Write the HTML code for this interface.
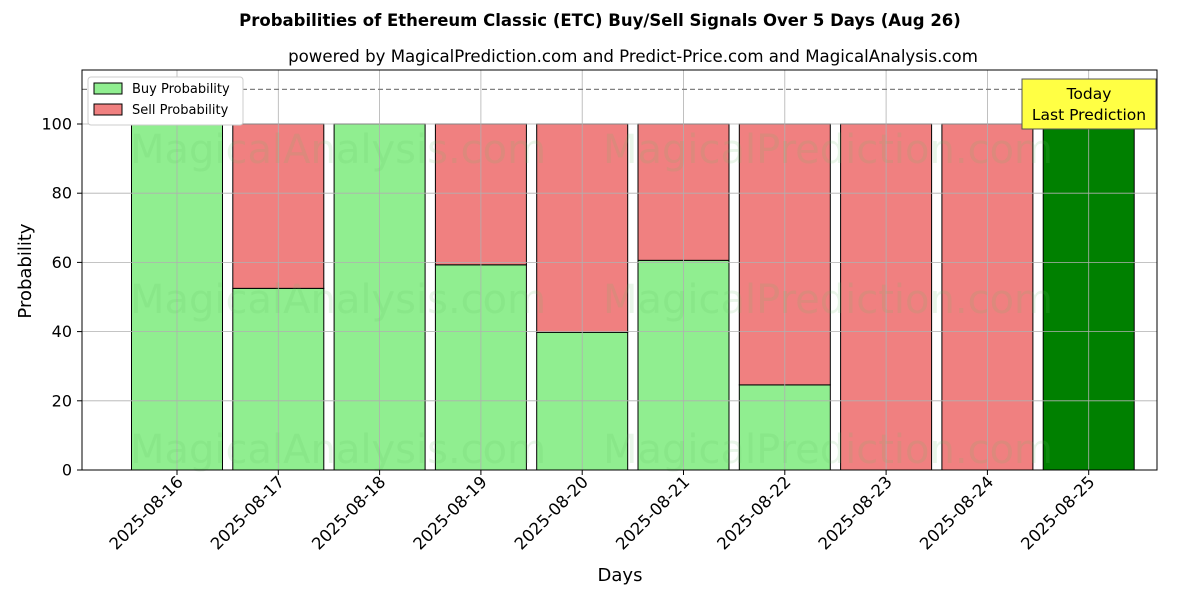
<!DOCTYPE html>
<html><head><meta charset="utf-8"><style>
body{margin:0;background:#fff;font-family:"Liberation Sans","DejaVu Sans",sans-serif}
svg text{font-family:"DejaVu Sans","Liberation Sans",sans-serif}
</style></head><body>
<svg id="chart" width="1200" height="600" xmlns="http://www.w3.org/2000/svg">
<text x="600" y="26" text-anchor="middle" font-size="16.5" font-weight="bold">Probabilities of Ethereum Classic (ETC) Buy/Sell Signals Over 5 Days (Aug 26)</text>
<text x="633" y="62" text-anchor="middle" font-size="16.6">powered by MagicalPrediction.com and Predict-Price.com and MagicalAnalysis.com</text>
<g id="bars"></g>
<g id="grid"></g>
<g id="wm" font-size="40" fill="rgba(100,190,100,0.14)">
<text x="130" y="163">MagicalAnalysis.com</text>
<text x="603" y="163">MagicalPrediction.com</text>
<text x="130" y="313">MagicalAnalysis.com</text>
<text x="603" y="313">MagicalPrediction.com</text>
<text x="130" y="463">MagicalAnalysis.com</text>
<text x="603" y="463">MagicalPrediction.com</text>
</g>
<line x1="82" x2="1157" y1="89.4" y2="89.4" stroke="#808080" stroke-width="1.2" stroke-dasharray="5,3"/>
<rect x="82" y="70" width="1075" height="400" fill="none" stroke="#000" stroke-width="1"/>
<g id="axes"></g>
<text transform="translate(31,271) rotate(-90)" text-anchor="middle" font-size="18">Probability</text>
<text x="620" y="581" text-anchor="middle" font-size="18">Days</text>
<g>
<rect x="88" y="77" width="155" height="48" fill="#fff" stroke="#ccc" rx="3"/>
<rect x="94" y="83" width="28" height="11" fill="#90ee90" stroke="#000"/>
<text x="132" y="93" font-size="13">Buy Probability</text>
<rect x="94" y="104" width="28" height="11" fill="#f08080" stroke="#000"/>
<text x="132" y="114" font-size="13">Sell Probability</text>
</g>
<g>
<rect x="1022" y="79" width="134" height="50" fill="#ffff44" stroke="#555"/>
<text x="1089" y="99" text-anchor="middle" font-size="15.5">Today</text>
<text x="1089" y="120" text-anchor="middle" font-size="15.5">Last Prediction</text>
</g>
</svg>
<script>
const categories=["2025-08-16","2025-08-17","2025-08-18","2025-08-19","2025-08-20","2025-08-21","2025-08-22","2025-08-23","2025-08-24","2025-08-25"];
const buyValues=[100,52.5,100,59.3,39.8,60.6,24.6,0,0,100];
const sellValues=[0,47.5,0,40.7,60.2,39.4,75.4,100,100,0];
const yTicks=[0,20,40,60,80,100];
const NS="http://www.w3.org/2000/svg";
const y=v=>470-v*3.46;
const x=i=>177+i*101.3;
const bw=91;
function mk(tag,attrs,parent){const e=document.createElementNS(NS,tag);for(const k in attrs)e.setAttribute(k,attrs[k]);parent.appendChild(e);return e;}
const grid=document.getElementById('grid'),bars=document.getElementById('bars'),axes=document.getElementById('axes');
yTicks.forEach(t=>{
 const g=mk('line',{x1:82,x2:1157,y1:y(t),y2:y(t),stroke:'#b0b0b0','stroke-width':0.8},grid);
 
 
 const tk=mk('line',{x1:77,x2:82,y1:y(t),y2:y(t),stroke:'#000'},axes);
 
 
 const tx=mk('text',{x:72,y:y(t)+5.5,'text-anchor':'end','font-size':16},axes);
 tx.textContent=t;
 
 
});
categories.forEach((c,i)=>{
 const gl=mk('line',{x1:x(i),x2:x(i),y1:70,y2:470,stroke:'#b0b0b0','stroke-width':0.8},grid);
 
 
 const last=i===categories.length-1;
 const b=mk('rect',{x:x(i)-bw/2,y:y(buyValues[i]),width:bw,height:buyValues[i]*3.46,fill:last?'#008000':'#90ee90',stroke:'#000','stroke-width':1},bars);
 
 
 const s=mk('rect',{x:x(i)-bw/2,y:y(buyValues[i]+sellValues[i]),width:bw,height:sellValues[i]*3.46,fill:'#f08080',stroke:'#000','stroke-width':1},bars);
 
 
 const tk=mk('line',{x1:x(i),x2:x(i),y1:470,y2:475,stroke:'#000'},axes);
 
 
 const tx=mk('text',{transform:`translate(${x(i)+7},${483}) rotate(-45)`,'text-anchor':'end','font-size':16.5},axes);
 tx.textContent=c;
 
 
});
</script>
</body></html>
